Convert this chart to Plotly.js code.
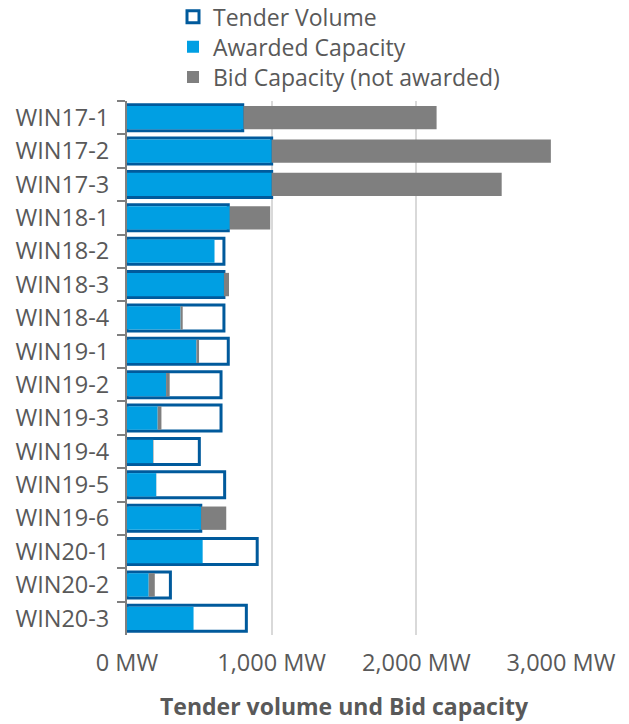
<!DOCTYPE html>
<html>
<head>
<meta charset="utf-8">
<script src="https://cdn.plot.ly/plotly-3.0.1.min.js"></script>
<style>html,body{margin:0;padding:0;background:#fff;}#chart{width:629px;height:724px;}</style>
</head>
<body>
<div id="chart"></div>
<script>
const categories = ["WIN17-1","WIN17-2","WIN17-3","WIN18-1","WIN18-2","WIN18-3","WIN18-4","WIN19-1","WIN19-2","WIN19-3","WIN19-4","WIN19-5","WIN19-6","WIN20-1","WIN20-2","WIN20-3"];
const tenderVolume = [800, 1000, 1000, 700, 670, 670, 670, 700, 650, 650, 500, 675, 510, 900, 300, 825];
const awardedCapacity = [805, 1000, 1000, 710, 605, 670, 370, 480, 270, 212, 180, 202, 512, 523, 150, 460];
const bidCapacity = [2140, 2930, 2590, 990, 605, 705, 385, 498, 295, 238, 183, 203, 686, 523, 192, 460];
const notAwarded = bidCapacity.map((b, i) => Math.max(0, b - awardedCapacity[i]));

const textColor = "#595959";
const fontFam = "'Open Sans', 'Noto Sans', sans-serif";

const traces = [
  {
    type: "bar", orientation: "h", name: "Tender Volume", legend: "legend",
    y: categories, x: tenderVolume, width: 0.78,
    marker: {color: "#ffffff", line: {color: "#005A9C", width: 3}}
  },
  {
    type: "bar", orientation: "h", name: "Awarded Capacity", legend: "legend2",
    y: categories, x: awardedCapacity, width: 0.7,
    marker: {color: "#009FE3", line: {width: 0}}
  },
  {
    type: "bar", orientation: "h", name: "Bid Capacity (not awarded)", legend: "legend3",
    y: categories, x: notAwarded, base: awardedCapacity, width: 0.7,
    marker: {color: "#7F7F7F", line: {width: 0}}
  }
];

function leg(yPaper) {
  return {
    x: 0.106, xanchor: "left", y: yPaper, yanchor: "middle",
    orientation: "v",
    font: {family: fontFam, size: 23, color: textColor},
    bgcolor: "rgba(0,0,0,0)"
  };
}

const layout = {
  width: 629, height: 724,
  margin: {l: 127, r: 68, t: 101, b: 89, autoexpand: false},
  paper_bgcolor: "#ffffff", plot_bgcolor: "#ffffff",
  font: {family: fontFam, color: textColor, size: 23},
  barmode: "overlay",
  showlegend: true,
  legend: leg(1.1576),
  legend2: leg(1.1013),
  legend3: leg(1.045),
  xaxis: {
    range: [0, 3000],
    tickvals: [0, 1000, 2000, 3000],
    ticktext: ["0 MW", "1,000 MW", "2,000 MW", "3,000 MW"],
    showgrid: true, gridcolor: "#D9D9D9", gridwidth: 2,
    zeroline: false, showline: false, ticks: "",
    ticklabelstandoff: 11,
    tickfont: {size: 23.5, color: textColor},
    title: {text: "<b>Tender volume und Bid capacity</b>", font: {size: 23, color: textColor}, standoff: 22}
  },
  yaxis: {
    type: "category",
    autorange: "reversed",
    showline: true, linecolor: "#7F7F7F", linewidth: 2,
    ticks: "outside", tickson: "boundaries", ticklen: 8, tickcolor: "#7F7F7F", tickwidth: 2,
    showgrid: false, zeroline: false,
    ticklabelstandoff: 11,
    tickfont: {size: 23.5, color: textColor}
  }
};

Plotly.newPlot("chart", traces, layout, {displayModeBar: false, staticPlot: true});
</script>
</body>
</html>
